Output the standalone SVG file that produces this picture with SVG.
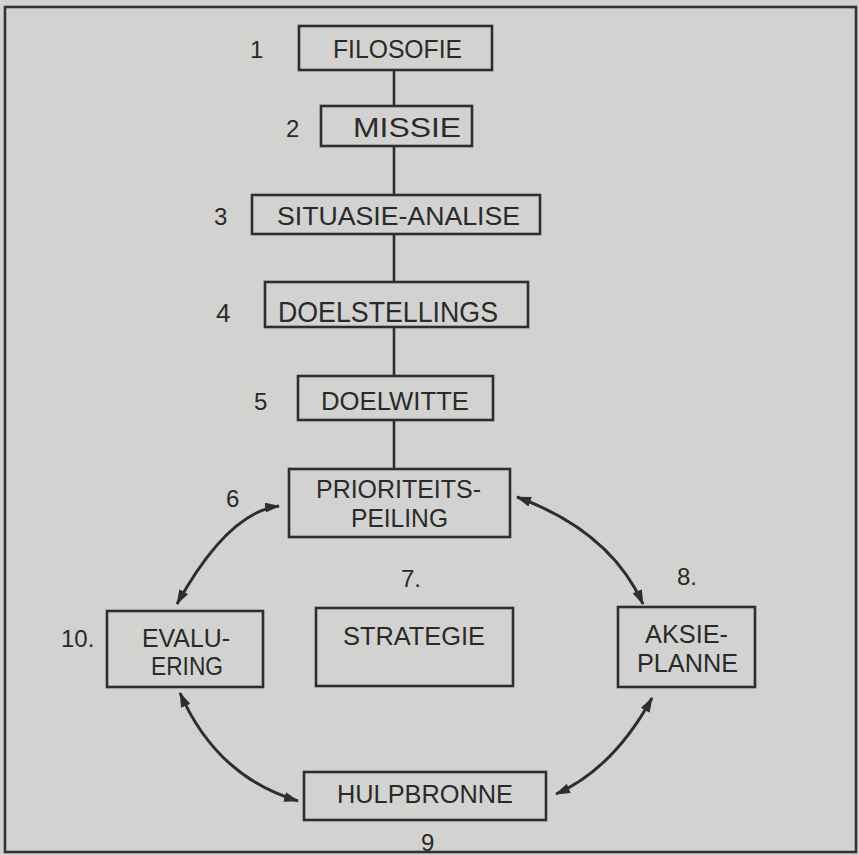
<svg xmlns="http://www.w3.org/2000/svg" width="859" height="855" viewBox="0 0 859 855">
  <style>
    .box { fill: none; stroke: #2e2e2e; stroke-width: 2.6; }
    .lbl { font-family: "Liberation Sans", Arial, Helvetica, sans-serif; font-size: 26px; fill: #2a2a2a; }
    .num { font-family: "Liberation Sans", Arial, Helvetica, sans-serif; font-size: 24px; fill: #2a2a2a; }
    .link { fill: none; stroke: #2e2e2e; stroke-width: 2.6; }
    .arc { fill: none; stroke: #2e2e2e; stroke-width: 3; marker-start: url(#head); marker-end: url(#head); }
  </style>
  <defs>
    <marker id="head" viewBox="0 0 15 10" refX="14" refY="5" markerWidth="15" markerHeight="10" markerUnits="userSpaceOnUse" orient="auto-start-reverse">
      <path d="M0,0 L15,5 L0,10 Z" fill="#2e2e2e"/>
    </marker>
  </defs>

  <rect x="0" y="0" width="859" height="855" fill="#d2d2d1"/>
  <rect x="5" y="7" width="851" height="845" fill="none" stroke="#333" stroke-width="2.6"/>

  <g id="connectors">
    <line class="link" x1="394" y1="70" x2="394" y2="106"/>
    <line class="link" x1="394" y1="146" x2="394" y2="195"/>
    <line class="link" x1="394" y1="234" x2="394" y2="282"/>
    <line class="link" x1="394" y1="327" x2="394" y2="376"/>
    <line class="link" x1="394" y1="420" x2="394" y2="469"/>
    <path class="arc" d="M177,604 Q228,512 279,506"/>
    <path class="arc" d="M517,497 Q610,531 643,604"/>
    <path class="arc" d="M652,698 Q613,769 556,794"/>
    <path class="arc" d="M180,693 Q217,777 298,801"/>
  </g>

  <g id="n1">
    <rect class="box" x="299" y="26" width="193" height="44"/>
    <text class="lbl" x="333" y="58" textLength="129" lengthAdjust="spacingAndGlyphs">FILOSOFIE</text>
    <text class="num" x="250" y="58">1</text>
  </g>
  <g id="n2">
    <rect class="box" x="321" y="106" width="151" height="40"/>
    <text class="lbl" x="353" y="137" style="font-size:27px" textLength="108" lengthAdjust="spacingAndGlyphs">MISSIE</text>
    <text class="num" x="286" y="137">2</text>
  </g>
  <g id="n3">
    <rect class="box" x="252" y="195" width="288" height="39"/>
    <text class="lbl" x="277" y="225" textLength="243" lengthAdjust="spacingAndGlyphs">SITUASIE-ANALISE</text>
    <text class="num" x="214" y="225">3</text>
  </g>
  <g id="n4">
    <rect class="box" x="265" y="282" width="263" height="45"/>
    <text class="lbl" x="278" y="322" style="font-size:29px" textLength="220" lengthAdjust="spacingAndGlyphs">DOELSTELLINGS</text>
    <text class="num" x="216" y="322" style="font-size:26px">4</text>
  </g>
  <g id="n5">
    <rect class="box" x="298" y="376" width="195" height="44"/>
    <text class="lbl" x="321" y="410" textLength="148" lengthAdjust="spacingAndGlyphs">DOELWITTE</text>
    <text class="num" x="254" y="410">5</text>
  </g>
  <g id="n6">
    <rect class="box" x="289" y="469" width="221" height="68"/>
    <text class="lbl" x="316" y="498" textLength="165" lengthAdjust="spacingAndGlyphs">PRIORITEITS-</text>
    <text class="lbl" x="351" y="527" textLength="97" lengthAdjust="spacingAndGlyphs">PEILING</text>
    <text class="num" x="226" y="507">6</text>
  </g>
  <g id="n7">
    <rect class="box" x="316" y="608" width="197" height="78"/>
    <text class="lbl" x="343" y="645" textLength="142" lengthAdjust="spacingAndGlyphs">STRATEGIE</text>
    <text class="num" x="401" y="587">7.</text>
  </g>
  <g id="n8">
    <rect class="box" x="618" y="607" width="137" height="80"/>
    <text class="lbl" x="645" y="643" textLength="83" lengthAdjust="spacingAndGlyphs">AKSIE-</text>
    <text class="lbl" x="637" y="672" textLength="101" lengthAdjust="spacingAndGlyphs">PLANNE</text>
    <text class="num" x="677" y="585">8.</text>
  </g>
  <g id="n9">
    <rect class="box" x="304" y="772" width="242" height="48"/>
    <text class="lbl" x="337" y="803" textLength="176" lengthAdjust="spacingAndGlyphs">HULPBRONNE</text>
    <text class="num" x="421" y="851">9</text>
  </g>
  <g id="n10">
    <rect class="box" x="107" y="611" width="156" height="76"/>
    <text class="lbl" x="142" y="647" textLength="88" lengthAdjust="spacingAndGlyphs">EVALU-</text>
    <text class="lbl" x="151" y="675" textLength="72" lengthAdjust="spacingAndGlyphs">ERING</text>
    <text class="num" x="61" y="647">10.</text>
  </g>
</svg>
